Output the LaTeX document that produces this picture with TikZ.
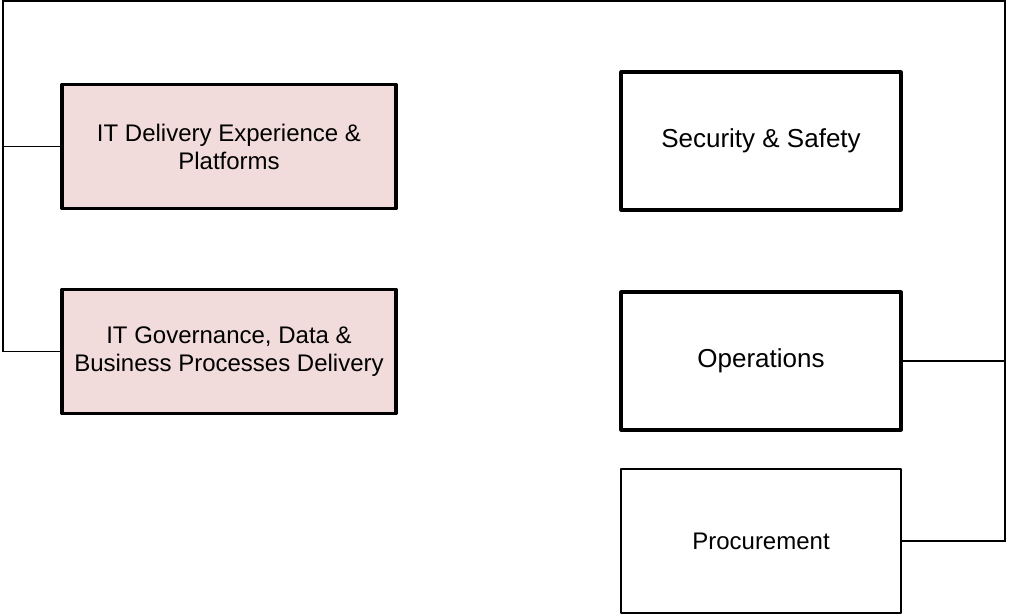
\documentclass[tikz,border=0pt]{standalone}
\usepackage{fontspec}
\setmainfont{Liberation Sans}
\definecolor{boxpink}{HTML}{F2DCDB}
\begin{document}
\begin{tikzpicture}[x=0.75pt,y=-0.75pt,
  unitbox/.style={draw=black,rectangle,inner sep=0pt,align=center,line join=round},
  pinkbox/.style={unitbox,fill=boxpink,line width=2.4pt,minimum width=250.5pt,minimum height=93pt,font=\fontsize{18}{21}\selectfont},
  boldbox/.style={unitbox,fill=white,line width=2.4pt,minimum width=210pt,minimum height=103.5pt,font=\fontsize{19.5}{22.5}\selectfont},
  thinbox/.style={unitbox,fill=white,line width=0.9pt,minimum width=210pt,minimum height=108pt,font=\fontsize{18}{21}\selectfont},
  link/.style={draw=black,line width=1.1pt}]
\useasboundingbox (0,0) rectangle (1010,615);
\fill[white] (0,0) rectangle (1010,615);
\coordinate (tl) at (3,1);
\coordinate (tr) at (1005,1);
\node[pinkbox] (b1) at (229,146.5) {IT Delivery Experience \&\\Platforms};
\node[pinkbox] (b2) at (229,351.5) {IT Governance, Data \&\\Business Processes Delivery};
\node[boldbox] (sec) at (761,141) {Security \& Safety};
\node[boldbox] (ops) at (761,361) {Operations};
\node[thinbox] (proc) at (761,541) {Procurement};
\draw[link] (b2.west) -- (b2.west -| tl) |- (tr) |- (proc.east);
\draw[link] (b1.west) -- (b1.west -| tl);
\draw[link] (ops.east) -- (ops.east -| tr);
\end{tikzpicture}
\end{document}
